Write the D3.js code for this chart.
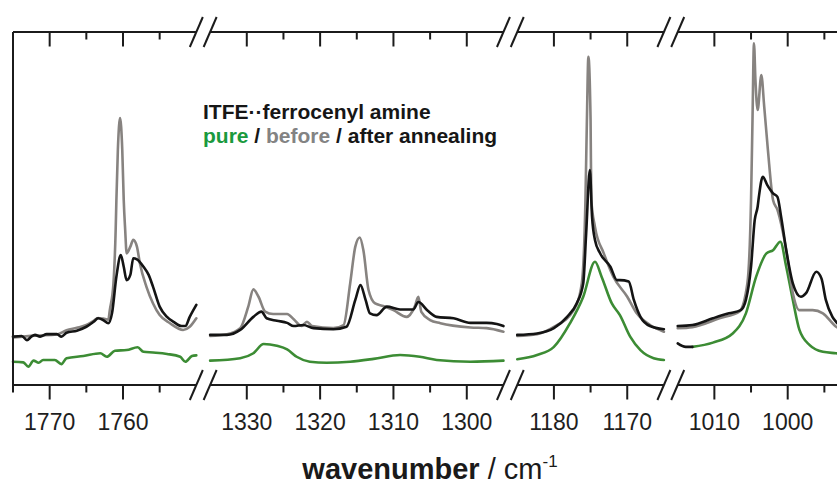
<!DOCTYPE html>
<html>
<head>
<meta charset="utf-8">
<script src="https://cdn.jsdelivr.net/npm/d3@7"></script>
<style>
  html, body { margin: 0; padding: 0; background: #fff; }
  svg { display: block; font-family: "Liberation Sans", Arial, sans-serif; }
</style>
</head>
<body>
<svg id="chart"></svg>
<script>
// x ranges of the four broken-axis panels (wavenumber, high -> low)
const panelDomains = [[1775, 1750], [1335, 1295], [1185, 1165], [1015, 990]];
const majorTicks = [1770, 1760, 1330, 1320, 1310, 1300, 1180, 1170, 1010, 1000];
const minorTicks = [1775, 1765, 1755, 1325, 1315, 1305, 1175, 1005, 995];

// pure ITFE (green)
const pure1 = [[1775,6.6],[1773.6,6.4],[1772.9,5.2],[1772.2,6.9],[1771.5,6.3],[1770.9,7.1],[1769.3,7.1],[1768.4,5.9],[1767.7,7.6],[1765.4,8.2],[1763.1,9.0],[1762.2,8.0],[1761.1,9.7],[1759.5,9.9],[1758.0,10.7],[1757.2,9.4],[1755.9,9.2],[1754.0,8.8],[1752.2,8.0],[1751.5,6.6],[1750.6,8.2],[1750,8.4]];
const pure2 = [[1335,6.9],[1330.9,7.6],[1329.1,9.0],[1327.7,11.6],[1325.9,11.1],[1324.5,10.1],[1323.2,8.0],[1321.4,6.6],[1319.1,6.3],[1315.9,6.6],[1312.7,7.4],[1309.1,8.5],[1306.4,8.0],[1304.1,7.1],[1299.5,6.6],[1295,6.9]];
const pure3 = [[1185,7.3],[1182.3,8.5],[1180,10.8],[1177.8,17.5],[1176,25.0],[1174.4,34.9],[1173.5,30.7],[1172.1,23.1],[1171,19.8],[1169.6,13.7],[1168.2,9.9],[1166.4,7.6],[1165,7.1]];
const pure4 = [[1013,10.8],[1010.2,12.0],[1007.5,14.6],[1005.7,20.3],[1004.3,30.7],[1002.9,37.3],[1002,38.2],[1001,40.6],[1000.2,33.5],[999.3,24.1],[998.4,15.6],[997,11.3],[995.2,9.4],[993.4,9.0],[992.5,8.8]];
const pureTail4 = [[1015,11.8],[1013.9,10.8],[1013,10.8]];

// co-crystal before annealing (grey)
const before1 = [[1775,13.5],[1772,14.0],[1769,14.3],[1767.7,15.5],[1766.3,16.2],[1765,17.0],[1764,18.2],[1763.4,19.0],[1762.7,18.8],[1762,18.5],[1761.8,21.2],[1761.3,28.9],[1761.0,43.9],[1760.9,52.4],[1760.7,66.6],[1760.4,75.6],[1760.1,66.6],[1759.9,52.4],[1759.7,43.9],[1759.5,37.3],[1759.0,39.2],[1758.6,41.1],[1758.1,39.2],[1757.7,34.5],[1756.8,27.8],[1755.9,23.1],[1755,19.8],[1753.6,17.5],[1751.8,15.6],[1750.9,16.5],[1750,18.9]];
const before2 = [[1335,13.9],[1332.7,14.4],[1330.9,16.1],[1329.8,22.2],[1329.1,27.1],[1328.4,25.0],[1327.5,20.8],[1326.4,20.1],[1324.5,20.1],[1323.6,18.6],[1322.5,16.7],[1321.8,17.9],[1321.1,16.7],[1318.2,16.1],[1316.8,17.0],[1315.9,28.8],[1315.2,39.2],[1314.6,41.8],[1314.1,38.2],[1313.4,26.9],[1312.5,23.1],[1311.4,22.4],[1310,21.2],[1308.2,19.3],[1307.1,22.2],[1306.6,25.0],[1306.2,20.7],[1305,18.4],[1303.6,17.5],[1299.5,16.3],[1297.3,16.1],[1295,15.1]];
const before3 = [[1185,13.9],[1182.3,14.4],[1180,16.5],[1177.3,21.2],[1176.2,28.8],[1175.7,52.4],[1175.5,75.1],[1175.3,93.0],[1175.0,75.1],[1174.9,52.4],[1174.4,44.8],[1173.2,37.3],[1171.9,30.7],[1170,25.0],[1168.7,20.3],[1166.9,17.0],[1165,15.1]];
const before4 = [[1015,16.1],[1013,16.4],[1009.3,18.9],[1006.6,20.8],[1005.5,28.8],[1005.0,52.4],[1004.8,75.1],[1004.6,96.8],[1004.4,86.4],[1004.1,77.9],[1003.6,87.8],[1003.2,78.8],[1002.7,66.6],[1002,52.4],[1001.4,49.6],[1000.2,38.2],[999.3,26.0],[998.4,21.2],[996.6,21.2],[995.2,20.3],[993.4,16.5],[992.5,15.5]];

// co-crystal after annealing (black)
const after1 = [[1775,13.7],[1773.8,13.9],[1773.1,12.7],[1772.5,13.7],[1772,14.2],[1771.3,13.7],[1770.4,14.4],[1769,14.4],[1768.4,13.7],[1767.7,14.8],[1766.3,15.4],[1765,16.5],[1764,17.9],[1763.4,18.9],[1762.7,18.4],[1762,17.5],[1761.5,20.3],[1760.9,30.7],[1760.3,36.8],[1759.9,33.5],[1759.5,29.7],[1759,31.2],[1758.6,35.9],[1758.1,35.6],[1757.2,33.5],[1756.5,31.2],[1755.9,27.8],[1755,22.2],[1754,19.3],[1753.1,17.9],[1752,16.7],[1751.5,16.7],[1750.9,19.3],[1750,22.7]];
const after2 = [[1335,14.2],[1332.7,14.2],[1330.9,15.6],[1329.1,19.3],[1328,20.8],[1327.3,18.9],[1325.9,18.2],[1324.5,17.6],[1323.6,16.7],[1322.3,17.0],[1320.9,16.1],[1318.2,15.8],[1316.4,16.5],[1315.2,24.1],[1314.5,28.3],[1313.8,24.1],[1313.2,20.3],[1312.3,19.8],[1310.9,22.2],[1309.1,21.4],[1307.3,21.4],[1306.6,23.5],[1305.4,21.2],[1304.1,19.3],[1301.8,18.9],[1299.5,17.6],[1297.3,17.6],[1295.9,17.3],[1295,16.7]];
const after3 = [[1185,14.2],[1182.3,14.6],[1180,16.1],[1178.2,19.3],[1176.9,23.1],[1176,28.8],[1175.6,43.0],[1175.1,60.9],[1174.8,47.7],[1174.4,41.1],[1173.7,37.3],[1172.3,33.5],[1171.4,29.7],[1171,29.7],[1169.8,29.3],[1169.1,24.1],[1168.2,19.3],[1166.9,16.7],[1165,15.8]];
const after4 = [[1015,16.7],[1013,17.0],[1010.2,18.9],[1008,20.3],[1006.4,21.2],[1005.7,24.1],[1005,33.5],[1004.5,46.7],[1004.1,50.5],[1003.9,53.8],[1003.4,59.0],[1002.8,56.7],[1002,54.3],[1001.4,53.3],[1000.9,47.7],[1000.2,38.2],[999.3,28.8],[998.2,25.0],[997.5,26.0],[996.1,32.1],[995.4,30.2],[994.8,24.1],[993.9,19.3],[993.4,17.9],[992.5,16.0]];

const W = 837, H = 487;
const x0 = 13, pxPerUnit = 7.333, gap = 13.8;
const yTop = 32, yBottom = 385;

const svg = d3.select("#chart")
    .attr("width", W)
    .attr("height", H)
    .attr("viewBox", [0, 0, W, H]);

// one x scale per panel
let cursor = x0;
const xScales = panelDomains.map((dom, i) => {
    const width = Math.abs(dom[0] - dom[1]) * pxPerUnit;
    const s = d3.scaleLinear().domain(dom).range([cursor, cursor + width]);
    cursor += width + gap;
    return s;
});

const y = d3.scaleLinear().domain([0, 100]).range([yBottom, yTop]);

function scaleFor(v) {
    return xScales.find(s => {
        const d = s.domain();
        return v <= d[0] && v >= d[1];
    });
}

// spectra
const colors = {pure: "#3c8c34", before: "#878380", after: "#141414"};
const seriesList = [
    {data: [pure1, pure2, pure3, pure4], color: colors.pure},
    {data: [null, null, null, pureTail4], color: colors.after},
    {data: [before1, before2, before3, before4], color: colors.before},
    {data: [after1, after2, after3, after4], color: colors.after}
];

const plot = svg.append("g");
seriesList.forEach(series => {
    series.data.forEach((pts, i) => {
        if (!pts) return;
        const xs = xScales[i];
        const line = d3.line()
            .x(d => xs(d[0]))
            .y(d => y(d[1]))
            .curve(d3.curveMonotoneX);
        plot.append("path")
            .attr("d", line(pts))
            .attr("fill", "none")
            .attr("stroke", series.color)
            .attr("stroke-width", 2.6)
            .attr("stroke-linejoin", "round")
            .attr("stroke-linecap", "round");
    });
});

// axes
const axisColor = "#1b1b1b";
const axes = svg.append("g").attr("stroke", axisColor).attr("stroke-width", 2);

axes.append("line")
    .attr("x1", x0).attr("x2", x0)
    .attr("y1", yTop).attr("y2", yBottom);

[yTop, yBottom].forEach(yy => {
    xScales.forEach(s => {
        const r = s.range();
        axes.append("line")
            .attr("x1", r[0]).attr("x2", r[1])
            .attr("y1", yy).attr("y2", yy);
    });
    // break marks
    xScales.slice(0, -1).forEach((s, i) => {
        [s.range()[1], xScales[i + 1].range()[0]].forEach(cx => {
            axes.append("line")
                .attr("x1", cx - 6.5).attr("y1", yy + 15)
                .attr("x2", cx + 6.5).attr("y2", yy - 15);
        });
    });
});

function drawTicks(values, len) {
    values.forEach(v => {
        const s = scaleFor(v);
        const xx = s(v);
        // top axis: ticks point into the plot
        if (v !== panelDomains[0][0]) {
            axes.append("line")
                .attr("x1", xx).attr("x2", xx)
                .attr("y1", yTop).attr("y2", yTop + len);
        }
        // bottom axis: ticks point outward
        axes.append("line")
            .attr("x1", xx).attr("x2", xx)
            .attr("y1", yBottom).attr("y2", yBottom + len);
    });
}
drawTicks(majorTicks, 14.5);
drawTicks(minorTicks, 7.5);

// tick labels
svg.append("g")
    .selectAll("text")
    .data(majorTicks)
    .join("text")
    .attr("x", d => scaleFor(d)(d))
    .attr("y", 430)
    .attr("text-anchor", "middle")
    .attr("font-size", 23)
    .attr("fill", "#1e1e1e")
    .text(d => d);

// axis title
const title = svg.append("text")
    .attr("x", 430)
    .attr("y", 479)
    .attr("text-anchor", "middle")
    .attr("font-size", 29)
    .attr("fill", "#1a1a1a");
title.append("tspan").attr("font-weight", "bold").text("wavenumber");
title.append("tspan").text(" / cm");
title.append("tspan").attr("font-size", 17).attr("dy", -12).text("-1");

// legend text
const legend = svg.append("g")
    .attr("font-size", 21)
    .attr("font-weight", "bold");
legend.append("text")
    .attr("x", 203).attr("y", 119)
    .attr("fill", "#161616")
    .text("ITFE\u00b7\u00b7ferrocenyl amine");
const l2 = legend.append("text").attr("x", 203).attr("y", 143);
l2.append("tspan").attr("fill", "#1a9a3e").text("pure");
l2.append("tspan").attr("fill", "#161616").text(" / ");
l2.append("tspan").attr("fill", "#838383").text("before");
l2.append("tspan").attr("fill", "#161616").text(" / after annealing");
</script>
</body>
</html>
